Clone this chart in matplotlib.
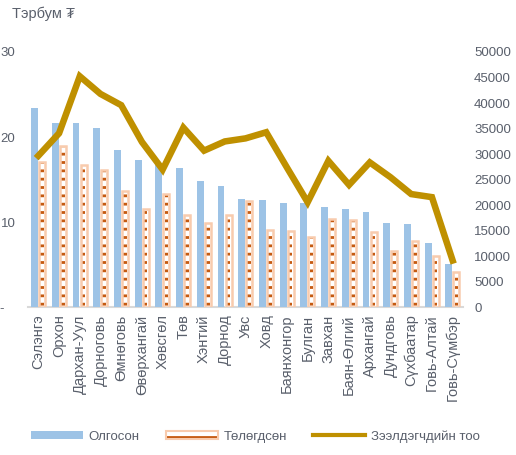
import matplotlib
matplotlib.use("Agg")
import matplotlib.pyplot as plt
from matplotlib.patches import Patch
from matplotlib.lines import Line2D
from matplotlib.legend_handler import HandlerTuple
import numpy as np

plt.rcParams['font.family'] = ['Liberation Sans', 'DejaVu Sans']
plt.rcParams['hatch.linewidth'] = 2.0

categories = ["Сэлэнгэ", "Орхон", "Дархан-Уул", "Дорноговь", "Өмнөговь", "Өвөрхангай",
              "Хөвсгөл", "Төв", "Хэнтий", "Дорнод", "Увс", "Ховд", "Баянхонгор", "Булган",
              "Завхан", "Баян-Өлгий", "Архангай", "Дундговь", "Сүхбаатар", "Говь-Алтай",
              "Говь-Сүмбэр"]
issued = [23.3, 21.6, 21.5, 21.0, 18.4, 17.2, 16.6, 16.3, 14.7, 14.1, 12.6, 12.5, 12.2, 12.1,
          11.7, 11.4, 11.1, 9.8, 9.7, 7.4, 5.0]
repaid = [17.0, 18.9, 16.6, 16.0, 13.6, 11.4, 13.2, 10.8, 9.75, 10.8, 12.4, 9.0, 8.9, 8.2,
          10.3, 10.1, 8.7, 6.5, 7.7, 5.95, 4.0]
borrowers = [29500, 33900, 45050, 41600, 39400, 32200, 26800, 35000, 30500, 32300, 32900, 34100,
             27200, 20400, 28500, 23800, 28200, 25300, 22000, 21400, 9000]

left_ticks = [0, 10, 20, 30]
left_labels = ["-   ", "10", "20", "30"]
right_ticks = list(range(0, 50001, 5000))

txt = '#595f6b'
blue = '#9DC3E6'
orange_edge = '#F8CBAD'
orange_dash = '#C55A11'
gold = '#BF9000'

fig = plt.figure(figsize=(5.16, 4.56), dpi=100)
ax = fig.add_axes([28/516, 1-307.5/456, (463-28)/516, (307.5-52)/456])
x = np.arange(len(categories))
w = 0.33
ax.bar(x - 0.18, issued, width=w, color=blue, edgecolor='none', zorder=2)
ax.bar(x + 0.18, repaid, width=w, color='white', edgecolor='none', linewidth=0, zorder=2)
ax.bar(x + 0.18, repaid, width=0.17, color='none', edgecolor=orange_dash, linewidth=0,
       hatch='--', zorder=2.1)
ax.bar(x + 0.18, repaid, width=w - 0.04, color='none', edgecolor=orange_edge, linewidth=1.8, zorder=2.2)

ax.set_xlim(-0.5, len(categories) - 0.5)
ax.set_ylim(0, 30)
ax.set_yticks(left_ticks)
ax.set_yticklabels(left_labels)
ax.set_xticks(x)
ax.set_xticklabels(categories, rotation=90, fontsize=10.5, color=txt)
ax.tick_params(axis='x', length=0, pad=5)
ax.tick_params(axis='y', length=0, pad=9, labelsize=9.5, labelcolor=txt)
for s in ['top', 'right', 'left']:
    ax.spines[s].set_visible(False)
ax.spines['bottom'].set_color('#D9D9D9')
ax.spines['bottom'].set_linewidth(1.5)
ax.spines['bottom'].set_zorder(1)

ax2 = ax.twinx()
ax2.plot(x, borrowers, color=gold, linewidth=4.7, solid_joinstyle='miter', zorder=3)
ax2.set_ylim(0, 50000)
ax2.set_yticks(right_ticks)
ax2.tick_params(axis='y', length=0, pad=8, labelsize=9.5, labelcolor=txt)
for s in ['top', 'right', 'left', 'bottom']:
    ax2.spines[s].set_visible(False)

fig.text(12/516, 1-14/456, "Тэрбум ₮", fontsize=10.5, color=txt, va='center', ha='left')

h2 = (Patch(facecolor='white', edgecolor=orange_dash, linewidth=0, hatch='--'),
      Patch(facecolor='none', edgecolor=orange_edge, linewidth=1.5))
handles = [Patch(facecolor=blue, edgecolor='none'), h2,
           Line2D([0], [0], color=gold, linewidth=3)]
leg = fig.legend(handles, ["Олгосон", "Төлөгдсөн", "Зээлдэгчдийн тоо"],
                 loc='center', bbox_to_anchor=(0.495, 1-437/456), ncol=3, frameon=False,
                 fontsize=9.5, handlelength=3.9, handleheight=0.55, handletextpad=0.45,
                 columnspacing=2.0, labelcolor=txt,
                 handler_map={tuple: HandlerTuple(ndivide=1, pad=0)})

fig.savefig("out.png", dpi=100)
